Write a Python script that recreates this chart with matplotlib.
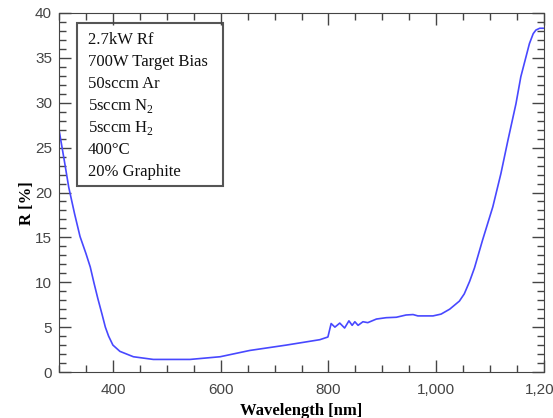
import numpy as np
import matplotlib
matplotlib.use("Agg")
import matplotlib.pyplot as plt
from matplotlib.patches import Rectangle
from matplotlib.ticker import MultipleLocator, FuncFormatter

# spectrum
wl = [300, 310, 318, 329, 339, 350, 358, 365, 372, 380, 386, 392, 400, 413,
      438, 475, 543, 599, 654, 722, 784, 799, 805, 812, 821, 830, 838, 844,
      849, 855, 864, 873, 889, 907, 926, 944, 957, 966, 994, 1009, 1025,
      1043, 1052, 1062, 1071, 1086, 1105, 1120, 1133, 1148, 1157, 1173,
      1180, 1185, 1192, 1200]
refl = [27.0, 23.5, 20.6, 17.6, 15.1, 13.2, 11.7, 9.9, 8.2, 6.4, 5.0, 4.0,
        3.0, 2.3, 1.7, 1.4, 1.4, 1.7, 2.4, 3.0, 3.6, 3.9, 5.4, 5.0, 5.45,
        4.9, 5.7, 5.2, 5.6, 5.2, 5.6, 5.5, 5.9, 6.05, 6.1, 6.35, 6.4, 6.25,
        6.25, 6.45, 7.0, 7.9, 8.7, 10.1, 11.6, 14.7, 18.4, 22.1, 25.8, 29.9,
        32.9, 36.6, 37.7, 38.1, 38.3, 38.3]

notes = ["2.7kW Rf", "700W Target Bias", "50sccm Ar",
         r"5sccm N$_\mathregular{2}$", r"5sccm H$_\mathregular{2}$",
         "400\u00b0C", "20% Graphite"]

plt.rcParams['font.family'] = 'Liberation Serif'
plt.rcParams['mathtext.fontset'] = 'custom'
plt.rcParams['mathtext.rm'] = 'Liberation Serif'

fig = plt.figure(figsize=(5.53, 4.18), dpi=100)
ax = fig.add_axes([59/553, 46/418, 485/553, 359/418])

ax.plot(wl, refl, color='#4848ff', lw=1.2)

ax.set_xlim(300, 1200)
ax.set_ylim(0, 40)
ax.xaxis.set_major_locator(MultipleLocator(200))
ax.xaxis.set_minor_locator(MultipleLocator(50))
ax.yaxis.set_major_locator(MultipleLocator(5))
ax.yaxis.set_minor_locator(MultipleLocator(1))
ax.xaxis.set_major_formatter(FuncFormatter(lambda v, p: f"{int(v):,}"))

ax.tick_params(which='both', direction='in', top=True, right=True,
               color='#444444', labelcolor='#444444', labelsize=11)
ax.tick_params(which='major', length=8.5, width=1)
ax.tick_params(which='minor', length=4.7, width=1)
ax.tick_params(axis='x', which='major', pad=8)
ax.tick_params(axis='y', which='major', pad=5)
for lab in ax.get_xticklabels() + ax.get_yticklabels():
    lab.set_family('Liberation Sans')
for s in ax.spines.values():
    s.set_color('#444444')

ax.set_xlabel("Wavelength [nm]", fontsize=12, fontweight='bold', va='top')
ax.set_ylabel("R [%]", fontsize=12, fontweight='bold')
ax.xaxis.set_label_coords(0.5, -0.086)
ax.yaxis.set_label_coords(-0.05, 0.47)

ax.add_patch(Rectangle((0.0365, 0.519), 0.301, 0.454, transform=ax.transAxes,
                       fill=False, edgecolor='#555555', lw=1.5))
for i, t in enumerate(notes):
    ax.text(0.0595, (372 - 40 - 22 * i) / 359, t, transform=ax.transAxes,
            fontsize=12, va='center', ha='left', color='#111111')

fig.savefig("out.png", dpi=100)
